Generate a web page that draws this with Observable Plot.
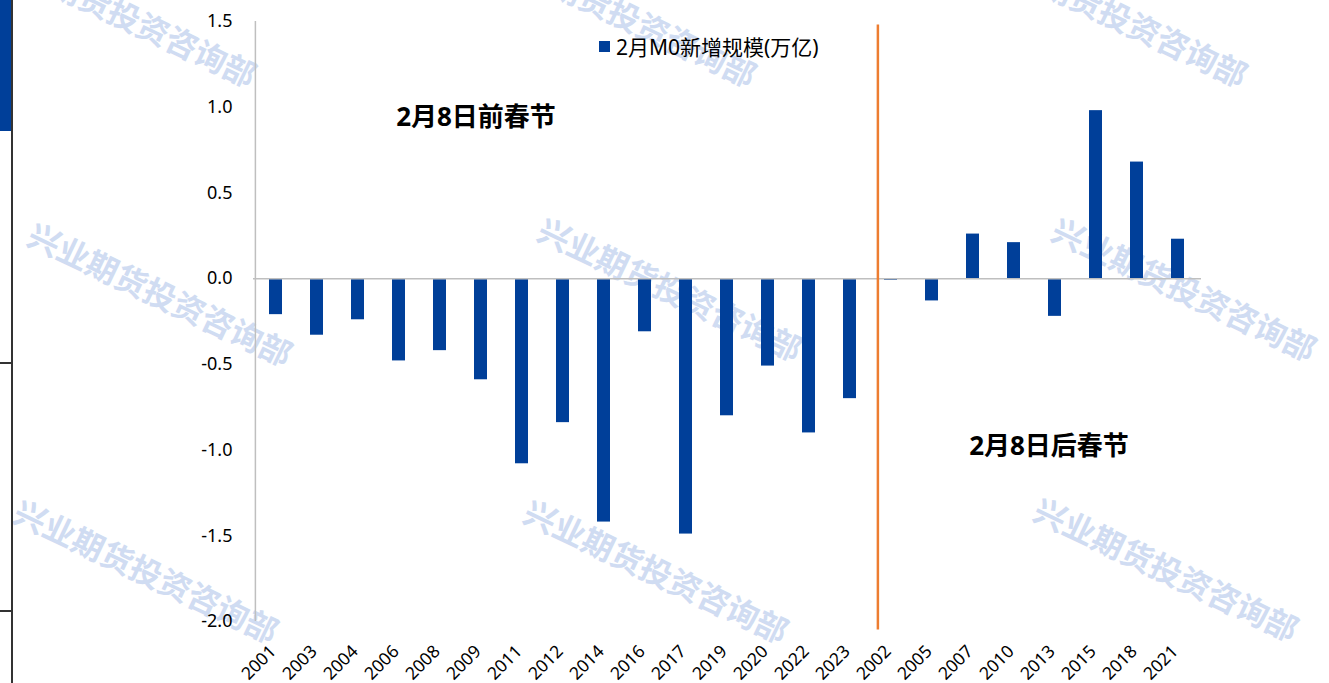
<!DOCTYPE html>
<html>
<head>
<meta charset="utf-8">
<script src="https://cdn.jsdelivr.net/npm/d3@7"></script>
<script src="https://cdn.jsdelivr.net/npm/@observablehq/plot@0.6"></script>
<style>
  html, body { margin: 0; padding: 0; background: #fff; overflow: hidden; }
  #wrap { position: relative; width: 1329px; height: 683px; overflow: hidden; background: #fff; }
  #chart { position: absolute; left: 0; top: 0; z-index: 1; }
  .wm { position: absolute; z-index: 0; white-space: nowrap; font-family: "Noto Sans CJK SC", sans-serif;
        font-weight: 700; font-size: 32px; color: rgb(208, 220, 242); transform: translate(-50%, -50%) rotate(25.5deg); }
  .deco { position: absolute; z-index: 2; }
  #legend { position: absolute; z-index: 2; left: 599px; top: 31px; display: flex; align-items: center;
            font-family: "Noto Sans", "Noto Sans CJK SC", sans-serif; font-size: 21px; color: #000; }
  #legend .sw { width: 11px; height: 11px; margin-right: 6px; }
</style>
</head>
<body>
<div id="wrap">
  <div id="chart"></div>
  <div id="legend"><span class="sw"></span><span id="legendText"></span></div>
</div>
<script>
// ---- data ----
const years = ["2001","2003","2004","2006","2008","2009","2011","2012","2014","2016","2017","2019","2020","2022","2023",
               "2002","2005","2007","2010","2013","2015","2018","2021"];
const values = [-0.21,-0.33,-0.24,-0.48,-0.42,-0.59,-1.08,-0.84,-1.42,-0.31,-1.49,-0.80,-0.51,-0.90,-0.70,
                -0.01,-0.13,0.26,0.21,-0.22,0.98,0.68,0.23];
const yTicks = [-2.0,-1.5,-1.0,-0.5,0.0,0.5,1.0,1.5];
const seriesName = "2月M0新增规模(万亿)";
const leftLabel = "2月8日前春节";
const rightLabel = "2月8日后春节";
const splitYear = "2002";
const watermarkText = "兴业期货投资咨询部";

// ---- styling / layout ----
const barColor = "#003f99";
const W = 1329, H = 683;
const mL = 253, mR = 128, mT = 21, mB = 62;
const pIn = 0.68, pOut = 0.34;
const step = (W - mL - mR) / (years.length - pIn + 2 * pOut);
const bandHalf = pOut * step + (1 - pIn) * step / 2; // offset from band-center to frame edge
const data = years.map((y, i) => ({year: y, value: values[i]}));
const fontFam = '"Noto Sans", "Noto Sans CJK SC", sans-serif';

const chart = Plot.plot({
  width: W, height: H,
  marginLeft: mL, marginRight: mR, marginTop: mT, marginBottom: mB,
  style: {background: "transparent", fontFamily: fontFam, fontSize: "18px", color: "#000", overflow: "visible"},
  x: {type: "band", domain: years, paddingInner: pIn, paddingOuter: pOut, axis: null},
  y: {domain: [-2, 1.5], nice: false},
  marks: [
    Plot.barY(data, {x: "year", y: "value", fill: barColor}),
    Plot.ruleY([0], {stroke: "#bfbfbf", strokeWidth: 1.5}),
    Plot.ruleX([years[0]], {y1: -2, y2: 1.5, stroke: "#bfbfbf", strokeWidth: 1.5, dx: -bandHalf}),
    Plot.ruleX([splitYear], {y1: 1.48, y2: -2.05, stroke: "#ED7D31", strokeWidth: 2.5, dx: -(bandHalf - 7.5)}),
    Plot.axisY({ticks: yTicks, tickSize: 0, tickPadding: 21, tickFormat: d => d.toFixed(1), fontSize: 18, label: null}),
    Plot.text(years, {x: d => d, y: -2, text: d => d, rotate: -45, textAnchor: "end", lineAnchor: "bottom",
                      dx: 1, dy: 31, fontSize: 17.5, fill: "#000"}),
    Plot.text([leftLabel], {x: ["2009"], y: [0.94], text: d => d, dx: -5, fontSize: 26, fontWeight: "bold",
                            fontFamily: fontFam, fill: "#000"}),
    Plot.text([rightLabel], {x: ["2010"], y: [-0.98], text: d => d, dx: 35, fontSize: 26, fontWeight: "bold",
                             fontFamily: fontFam, fill: "#000"})
  ]
});
document.getElementById("chart").appendChild(chart);

// legend
document.querySelector("#legend .sw").style.background = barColor;
document.getElementById("legendText").textContent = seriesName;

// watermarks (decorative, behind the chart)
const wrap = document.getElementById("wrap");
const wmCenters = [[125,14],[625,14],[1116,14],[161,293],[671,288],[1185,288],[147,570],[657,570],[1167,568]];
wmCenters.forEach(([cx, cy]) => {
  const s = document.createElement("div");
  s.className = "wm";
  s.textContent = watermarkText;
  s.style.left = cx + "px";
  s.style.top = cy + "px";
  wrap.appendChild(s);
});

// cropped neighbouring panel edge at the far left
function deco(l, t, w, h, bg) {
  const d = document.createElement("div");
  d.className = "deco";
  Object.assign(d.style, {left: l + "px", top: t + "px", width: w + "px", height: h + "px", background: bg});
  wrap.appendChild(d);
}
deco(0, 0, 12, 131, barColor);
deco(11, 0, 1.5, H, "#333");
deco(0, 362, 12, 1.5, "#333");
deco(0, 610, 12, 1.5, "#333");
</script>
</body>
</html>
